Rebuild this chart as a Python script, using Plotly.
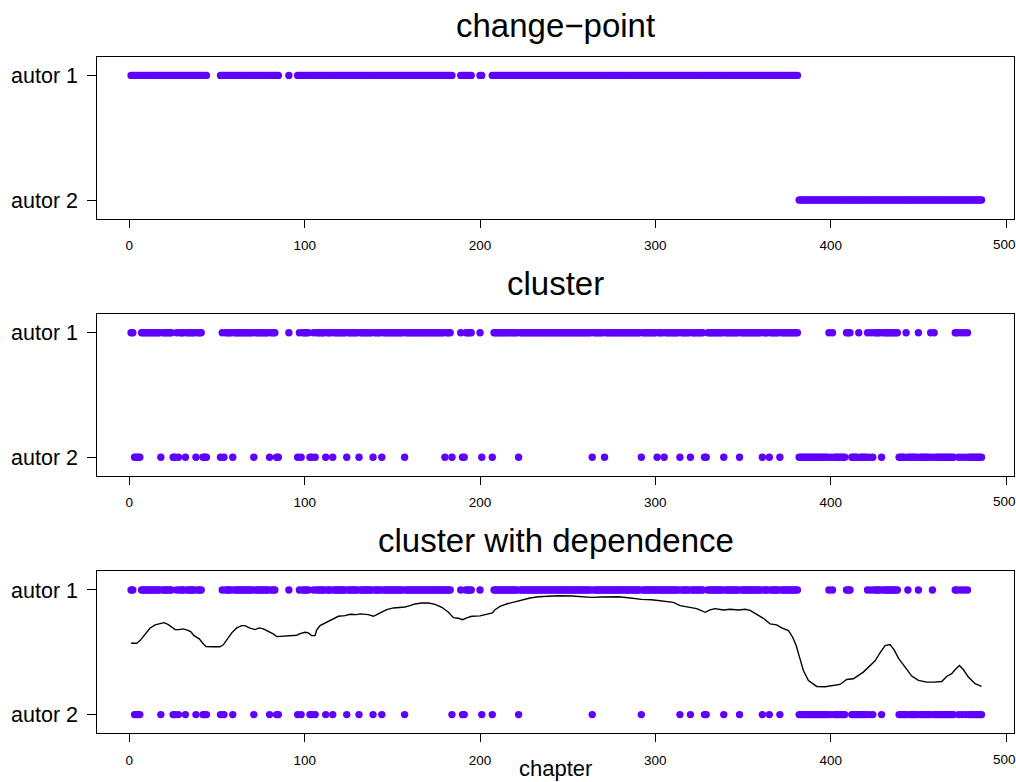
import plotly.graph_objects as go

# ---------------------------------------------------------------------------
# Data
# ---------------------------------------------------------------------------
N_CHAPTERS = 486
CHANGE_POINT = 382          # first chapter attributed to "autor 2" by the change-point model

# chapters without a classification (not drawn in any panel)
missing_chapters = [45, 46, 47, 48, 49, 50, 51,
                    86, 87, 88, 89, 90,
                    92, 93, 94, 95,
                    185, 186, 187, 188,
                    196, 197, 198, 199,
                    202, 203, 204, 205, 206]

# cluster model: chapters before the change point assigned to autor 2
cluster_autor2_early = [3, 4, 5, 6, 18, 25, 26, 28, 32, 38, 42, 43, 44, 52, 54, 59,
                        71, 80, 84, 85, 96, 98, 103, 104, 106, 112, 116, 124, 131,
                        139, 144, 157, 180, 184, 190, 191, 201, 207, 222, 264, 271,
                        292, 301, 305, 314, 320, 328, 329, 339, 348, 361, 365, 371]
# cluster model: chapters after the change point assigned to autor 1
cluster_autor1_late = [399, 401, 409, 410, 411, 416, 421, 423, 425, 426, 427, 428,
                       430, 431, 432, 433, 434, 435, 436, 437, 438, 443, 450, 457,
                       459, 471, 472, 474, 476, 478]

# cluster with dependence: chapters before the change point assigned to autor 2
dep_autor2_early = [3, 4, 5, 6, 18, 25, 26, 28, 32, 38, 42, 43, 44, 52, 54, 59,
                    71, 80, 84, 85, 96, 98, 103, 104, 106, 112, 116, 124, 131,
                    139, 144, 157, 184, 190, 191, 201, 207, 222, 264, 292, 314,
                    320, 328, 329, 339, 348, 361, 365, 371]
# cluster with dependence: chapters after the change point assigned to autor 1
dep_autor1_late = [399, 401, 409, 410, 411, 421, 423, 425, 426, 427, 428,
                   430, 431, 432, 433, 434, 435, 436, 437, 438, 444, 450, 458,
                   471, 472, 474, 476, 478]

# posterior probability of autor 1 along the book (dependence model)
curve_chapter = [1.0, 4.2, 6.1, 9.0, 11.8, 14.7, 17.5, 19.8, 22.3, 24.2, 26.1, 28.5,
                 30.4, 32.7, 35.0, 36.9, 39.9, 41.9, 43.7, 47.9, 51.7, 53.6, 55.9,
                 58.4, 61.3, 64.1, 66.0, 68.4, 71.7, 74.1, 76.4, 79.3, 82.1, 84.1,
                 87.8, 91.7, 95.5, 97.4, 100.2, 102.1, 104.0, 105.9, 106.9, 108.8,
                 111.6, 113.5, 116.3, 119.2, 123.0, 125.9, 129.7, 131.6, 136.3,
                 139.2, 141.1, 143.9, 146.8, 150.6, 154.4, 157.2, 160.1, 162.9,
                 166.8, 170.6, 174.4, 178.2, 182.0, 184.8, 187.7, 190.2, 192.4,
                 195.3, 200.0, 203.8, 207.1, 208.6, 211.4, 215.2, 219.0, 221.9,
                 224.7, 228.5, 233.3, 239.0, 244.7, 252.3, 259.9, 263.7, 269.4,
                 278.9, 284.6, 292.2, 297.9, 303.6, 310.3, 314.1, 319.8, 323.6,
                 328.4, 331.2, 334.0, 338.8, 342.6, 347.6, 351.2, 354.0, 357.8,
                 361.6, 365.4, 369.2, 372.1, 375.9, 378.3, 380.3, 382.2, 384.4,
                 387.3, 392.0, 396.8, 401.5, 405.3, 409.1, 412.9, 418.6, 422.4,
                 425.3, 428.1, 431.0, 433.8, 436.1, 438.6, 442.4, 446.2, 450.0,
                 454.7, 458.9, 463.3, 466.1, 469.0, 470.9, 473.4, 475.6, 478.5,
                 482.3, 486.0]
curve_prob = [0.573, 0.573, 0.594, 0.648, 0.693, 0.720, 0.733, 0.738, 0.722, 0.701,
              0.682, 0.682, 0.688, 0.680, 0.666, 0.634, 0.608, 0.573, 0.546, 0.544,
              0.544, 0.560, 0.608, 0.656, 0.696, 0.714, 0.714, 0.696, 0.682, 0.696,
              0.688, 0.669, 0.648, 0.626, 0.629, 0.634, 0.637, 0.650, 0.661, 0.656,
              0.634, 0.634, 0.680, 0.714, 0.733, 0.749, 0.768, 0.789, 0.794, 0.805,
              0.802, 0.808, 0.802, 0.789, 0.802, 0.821, 0.842, 0.856, 0.861, 0.864,
              0.874, 0.888, 0.896, 0.896, 0.885, 0.861, 0.821, 0.778, 0.773, 0.762,
              0.776, 0.789, 0.792, 0.802, 0.816, 0.842, 0.869, 0.888, 0.901, 0.909,
              0.922, 0.936, 0.946, 0.952, 0.954, 0.952, 0.946, 0.941, 0.944, 0.946,
              0.938, 0.925, 0.922, 0.914, 0.901, 0.874, 0.858, 0.850, 0.821, 0.840,
              0.850, 0.840, 0.845, 0.840, 0.845, 0.837, 0.805, 0.773, 0.728, 0.720,
              0.696, 0.674, 0.621, 0.554, 0.461, 0.354, 0.274, 0.226, 0.224, 0.237,
              0.242, 0.282, 0.288, 0.341, 0.389, 0.432, 0.496, 0.554, 0.562, 0.522,
              0.453, 0.381, 0.309, 0.274, 0.261, 0.261, 0.266, 0.306, 0.328, 0.360,
              0.394, 0.362, 0.301, 0.248, 0.226]

panel_titles = ["change\u2212point", "cluster", "cluster with dependence"]
author_ticks = [0, 1]
author_labels = ["autor 2", "autor 1"]
x_ticks = [0, 100, 200, 300, 400, 500]
x_label = "chapter"

# ---------------------------------------------------------------------------
# Assignments (1 = autor 1, 0 = autor 2)
# ---------------------------------------------------------------------------
chapters = [c for c in range(1, N_CHAPTERS + 1) if c not in set(missing_chapters)]


def assign(early_autor2, late_autor1):
    e2, l1 = set(early_autor2), set(late_autor1)
    out = []
    for c in chapters:
        if c < CHANGE_POINT:
            out.append(0 if c in e2 else 1)
        else:
            out.append(1 if c in l1 else 0)
    return out


changepoint_lab = [1 if c < CHANGE_POINT else 0 for c in chapters]
cluster_lab = assign(cluster_autor2_early, cluster_autor1_late)
dep_lab = assign(dep_autor2_early, dep_autor1_late)

# ---------------------------------------------------------------------------
# Figure
# ---------------------------------------------------------------------------
W, H = 1016, 782
DOT = "#5F00FF"
FONT = "Liberation Sans, Arial, Helvetica, sans-serif"
TICK_FONT = dict(size=13.5, family=FONT, color="black")

# panel boxes in pixels (top, bottom)
panel_px = [(56.7, 218.7), (314.0, 476.0), (571.3, 733.3)]
x_dom = [97.3 / W, 1013.8 / W]

fig = go.Figure()
for i, labs in enumerate([changepoint_lab, cluster_lab, dep_lab]):
    suffix = "" if i == 0 else str(i + 1)
    fig.add_trace(go.Scatter(
        x=chapters, y=labs, mode="markers",
        marker=dict(color=DOT, size=7.4, line=dict(width=0)),
        xaxis="x" + suffix, yaxis="y" + suffix, showlegend=False,
        hoverinfo="x+y",
    ))

fig.add_trace(go.Scatter(
    x=curve_chapter, y=curve_prob, mode="lines",
    line=dict(color="black", width=1.4),
    xaxis="x3", yaxis="y3", showlegend=False,
))

layout = dict(
    width=W, height=H, autosize=False,
    margin=dict(l=0, r=0, t=0, b=0),
    paper_bgcolor="white", plot_bgcolor="white",
    font=dict(family=FONT, color="black"),
    annotations=[],
)

# the last tick label sits against the right edge of the page, so it is
# drawn as an annotation nudged slightly inwards instead of an axis label
x_ticktext = [str(t) for t in x_ticks[:-1]] + [""]

for i, (top, bot) in enumerate(panel_px):
    suffix = "" if i == 0 else str(i + 1)
    ydom = [1 - bot / H, 1 - top / H]
    layout["xaxis" + suffix] = dict(
        domain=x_dom, anchor="y" + suffix, range=[-18.25, 504.4],
        tickmode="array", tickvals=x_ticks, ticktext=x_ticktext,
        ticks="outside", ticklen=8, tickwidth=1, tickcolor="black",
        tickfont=TICK_FONT,
        ticklabelstandoff=6, automargin=False,
        showline=True, mirror=True, linecolor="black", linewidth=1,
        showgrid=False, zeroline=False,
    )
    layout["yaxis" + suffix] = dict(
        domain=ydom, anchor="x" + suffix, range=[-0.15, 1.15],
        tickmode="array", tickvals=author_ticks, ticktext=author_labels,
        ticks="outside", ticklen=9, tickwidth=1, tickcolor="black",
        tickfont=dict(size=21.5, family=FONT, color="black"),
        ticklabelstandoff=5, automargin=False,
        showline=True, mirror=True, linecolor="black", linewidth=1,
        showgrid=False, zeroline=False,
    )
    layout["annotations"].append(dict(
        text=panel_titles[i], xref="paper", yref="paper",
        x=(x_dom[0] + x_dom[1]) / 2, y=1 - (top - 31) / H,
        xanchor="center", yanchor="middle", showarrow=False,
        font=dict(size=33, family=FONT, color="black"),
    ))
    layout["annotations"].append(dict(
        text=str(x_ticks[-1]), xref="x" + suffix, yref="paper",
        x=x_ticks[-1], y=1 - (bot + 26.0) / H, xshift=-2,
        xanchor="center", yanchor="middle", showarrow=False,
        borderpad=0, font=TICK_FONT,
    ))

layout["annotations"].append(dict(
    text=x_label, xref="paper", yref="paper",
    x=(x_dom[0] + x_dom[1]) / 2, y=1 - 768 / H,
    xanchor="center", yanchor="middle", showarrow=False,
    font=dict(size=22, family=FONT, color="black"),
))

fig.update_layout(**layout)
fig.write_html("out.html")
